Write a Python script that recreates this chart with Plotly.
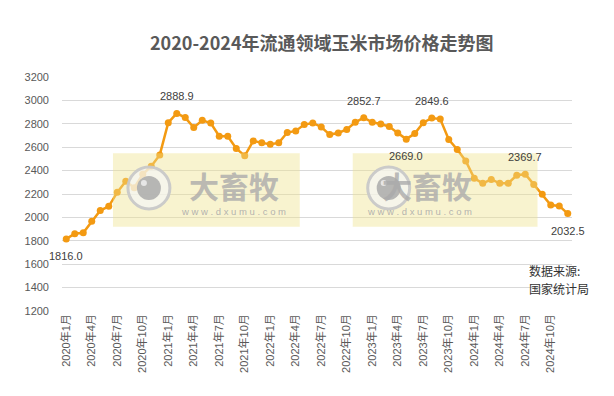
import plotly.graph_objects as go

# ---- data ----
years = [2020, 2021, 2022, 2023, 2024]
months = [f"{y}年{m}月" for y in years for m in range(1, 13)]
prices = [1816.0, 1860, 1868, 1968, 2058, 2095, 2214, 2308, 2254, 2368, 2438, 2534,
          2810, 2888.9, 2853, 2768, 2830, 2807, 2694, 2694, 2589, 2526, 2654, 2637,
          2626, 2637, 2725, 2739, 2793, 2807, 2773, 2708, 2722, 2751, 2813, 2852.7,
          2813, 2798, 2776, 2722, 2669.0, 2717, 2810, 2849.6, 2840, 2666, 2581, 2483,
          2334, 2291, 2325, 2291, 2291, 2360, 2369.7, 2282, 2197, 2106, 2098, 2032.5]
label_idx = [0, 13, 35, 40, 43, 54, 59]
label_pos = ["below", "above", "above", "below", "above", "above", "below"]
tick_idx = list(range(0, 60, 3))
y_ticks = list(range(1200, 3201, 200))

OFF = 8  # page body margin
W, H = 614 - OFF, 396 - OFF
L, R, T, B = 62 - OFF, 41.5, 76.5 - OFF, 84.5
pw, ph = W - L - R, H - T - B

def px(x):
    return (x - OFF - L) / pw

def py(y):
    return 1 - (y - OFF - T) / ph

LINE = "#F39A12"
FONT = "Liberation Sans, Noto Sans CJK SC, sans-serif"
CJK = "Noto Sans CJK SC, sans-serif"

fig = go.Figure()
fig.add_trace(go.Scatter(
    x=list(range(len(prices))), y=prices, mode="lines+markers",
    line=dict(color=LINE, width=2.5),
    marker=dict(color=LINE, size=7),
    hoverinfo="skip", showlegend=False))

annotations = []
for i, pos in zip(label_idx, label_pos):
    annotations.append(dict(
        x=i, y=prices[i], xref="x", yref="y", text=f"{prices[i]:.1f}",
        showarrow=False, yshift=17 if pos == "above" else -17,
        font=dict(family=FONT, size=11, color="#404040")))

shapes = []
# watermarks
for (x0, x1) in [(113, 300), (353, 538)]:
    shapes.append(dict(type="rect", xref="paper", yref="paper", layer="above",
                       x0=px(x0), x1=px(x1), y0=py(227), y1=py(153),
                       fillcolor="rgba(238,226,140,0.42)", line=dict(width=0)))
    cx, cy = x0 + 36, 188
    shapes.append(dict(type="circle", xref="paper", yref="paper", layer="above",
                       x0=px(cx - 21), x1=px(cx + 21), y0=py(cy + 21), y1=py(cy - 21),
                       fillcolor="rgba(245,245,245,0.7)",
                       line=dict(color="rgba(200,200,200,0.95)", width=3)))
    shapes.append(dict(type="circle", xref="paper", yref="paper", layer="above",
                       x0=px(cx - 12), x1=px(cx + 12), y0=py(cy + 12), y1=py(cy - 12),
                       fillcolor="rgba(170,170,170,0.85)", line=dict(width=0)))
    shapes.append(dict(type="circle", xref="paper", yref="paper", layer="above",
                       x0=px(cx - 8), x1=px(cx - 2), y0=py(cy - 2), y1=py(cy - 8),
                       fillcolor="rgba(235,235,235,0.9)", line=dict(width=0)))
    tx = x0 + 121
    annotations.append(dict(x=px(tx), y=py(185), xref="paper", yref="paper",
                            text="<b>大畜牧</b>", showarrow=False,
                            font=dict(family=CJK, size=30, color="rgba(170,170,170,0.8)")))
    annotations.append(dict(x=px(tx), y=py(212), xref="paper", yref="paper",
                            text="w w w . d x u m u . c o m", showarrow=False,
                            font=dict(family=FONT, size=9.5, color="rgba(170,170,170,0.9)")))

annotations.append(dict(x=px(527), y=py(281), xref="paper", yref="paper", xanchor="left",
                        text="数据来源:", showarrow=False,
                        font=dict(family=CJK, size=12, color="#333333")))
annotations.append(dict(x=px(527), y=py(299), xref="paper", yref="paper", xanchor="left",
                        text="国家统计局", showarrow=False,
                        font=dict(family=CJK, size=12, color="#333333")))

fig.update_layout(
    width=W, height=H,
    margin=dict(l=L, r=R, t=T, b=B),
    paper_bgcolor="white", plot_bgcolor="white",
    title=dict(text="<b>2020-2024年流通领域玉米市场价格走势图</b>",
               x=px(322), xref="paper", y=1 - (44 - OFF) / H, yref="container",
               xanchor="center", yanchor="middle",
               font=dict(family=CJK, size=18, color="#595959")),
    xaxis=dict(range=[-0.5, len(prices) - 0.5], tickmode="array",
               tickvals=tick_idx, ticktext=[months[i] for i in tick_idx],
               tickangle=-90, showgrid=False, zeroline=False, showline=False,
               ticks="", tickfont=dict(family=FONT, size=11, color="#595959")),
    yaxis=dict(range=[1200, 3200], tickmode="array", tickvals=y_ticks,
               showgrid=True, gridcolor="#D9D9D9", gridwidth=1, zeroline=False,
               showline=False, ticks="", ticklabelstandoff=12,
               tickfont=dict(family=FONT, size=11, color="#595959")),
    annotations=annotations, shapes=shapes,
)

fig.write_html("out.html")
